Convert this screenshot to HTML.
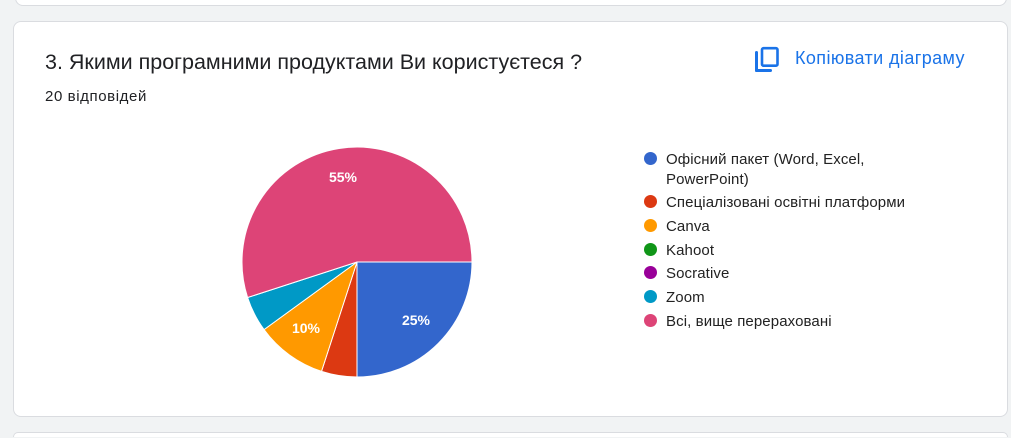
<!DOCTYPE html>
<html><head><meta charset="utf-8"><style>
html,body{margin:0;width:1011px;height:438px;overflow:hidden}
body{background:#f1f3f4;position:relative;font-family:"Liberation Sans",Arial,sans-serif}
.card{position:absolute;background:#fff;border:1px solid #dadce0;border-radius:8px}
.t{position:absolute;white-space:nowrap}
.lg{position:absolute;left:644px;font-size:15px;color:#222;line-height:20px}
.dot{position:absolute;left:0;top:3px;width:13px;height:13px;border-radius:50%}
.lg span.tx{position:absolute;left:22px;top:1px;white-space:nowrap;letter-spacing:0.1px}
</style></head><body>
<div class="card" style="left:15px;top:-20px;width:990px;height:24px"></div>
<div class="card" style="left:13px;top:21px;width:993px;height:394px"></div>
<div class="card" style="left:13px;top:432px;width:993px;height:4px;border-bottom:none;border-radius:8px 8px 0 0"></div>
<div class="t" style="left:45px;top:50px;font-size:21.5px;color:#202124">3. Якими програмними продуктами Ви користуєтеся ?</div>
<div class="t" style="left:45px;top:88px;font-size:15px;color:#202124;letter-spacing:0.6px">20 відповідей</div>
<svg style="position:absolute;left:753px;top:46px" width="28" height="28" viewBox="0 0 28 28"><rect x="2" y="5" width="3" height="21" rx="1.5" fill="#1a73e8"/><rect x="2" y="23" width="17" height="3" rx="1.5" fill="#1a73e8"/><rect x="9" y="2.2" width="15.5" height="17.5" rx="1.5" fill="none" stroke="#1a73e8" stroke-width="2.6"/></svg>
<div class="t" style="left:795px;top:48px;font-size:18px;color:#1a73e8;letter-spacing:0.4px">Копіювати діаграму</div>
<svg style="position:absolute;left:0;top:0" width="1011" height="438">
<g stroke="#fff" stroke-width="1">
<path d="M357 262 L472 262 A115 115 0 0 1 357 377 Z" fill="#3366cc"/>
<path d="M357 262 L357 377 A115 115 0 0 1 321.5 371.4 Z" fill="#dc3912"/>
<path d="M357 262 L321.5 371.4 A115 115 0 0 1 264 329.6 Z" fill="#ff9900"/>
<path d="M357 262 L264 329.6 A115 115 0 0 1 247.6 297.5 Z" fill="#0099c6"/>
<path d="M357 262 L247.6 297.5 A115 115 0 1 1 472 262 Z" fill="#dd4477"/>
</g>
<g fill="#fff" font-size="14" font-weight="bold" font-family="Liberation Sans,Arial,sans-serif" text-anchor="middle">
<text x="343" y="182">55%</text>
<text x="416" y="325">25%</text>
<text x="306" y="333">10%</text>
</g>
</svg>
<div class="lg" style="top:149px"><div class="dot" style="background:#3366cc"></div><span class="tx">Офісний пакет (Word, Excel,<br>PowerPoint)</span></div>
<div class="lg" style="top:192px"><div class="dot" style="background:#dc3912"></div><span class="tx">Спеціалізовані освітні платформи</span></div>
<div class="lg" style="top:216px"><div class="dot" style="background:#ff9900"></div><span class="tx">Canva</span></div>
<div class="lg" style="top:240px"><div class="dot" style="background:#109618"></div><span class="tx">Kahoot</span></div>
<div class="lg" style="top:263px"><div class="dot" style="background:#990099"></div><span class="tx">Socrative</span></div>
<div class="lg" style="top:287px"><div class="dot" style="background:#0099c6"></div><span class="tx">Zoom</span></div>
<div class="lg" style="top:311px"><div class="dot" style="background:#dd4477"></div><span class="tx">Всі, вище перераховані</span></div>
</body></html>
